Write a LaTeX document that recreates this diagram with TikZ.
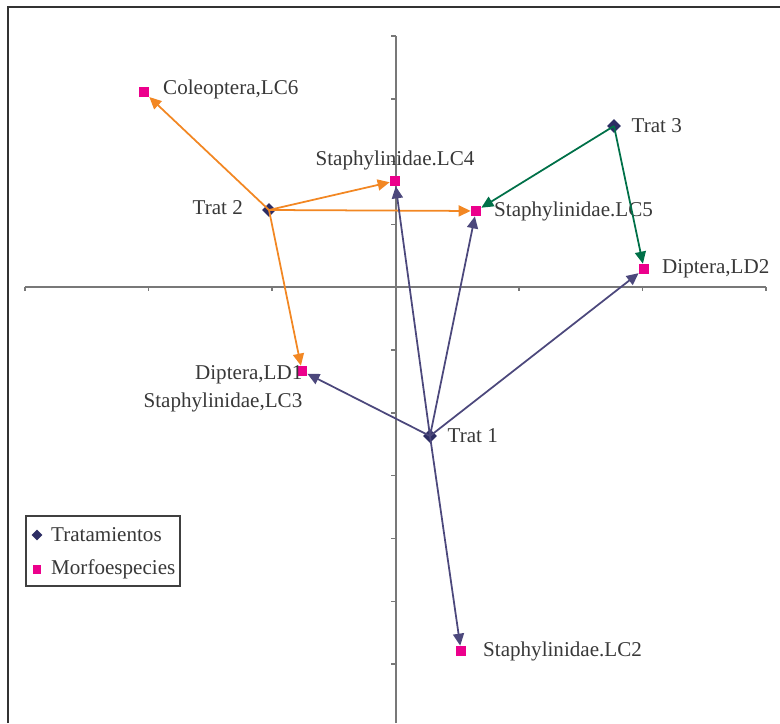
\documentclass[tikz,border=0pt]{standalone}
\usepackage{fontspec}
\setmainfont{Liberation Serif}
\usetikzlibrary{arrows.meta,shapes.geometric,positioning}

\definecolor{tratcol}{RGB}{45,45,100}
\definecolor{morfcol}{RGB}{236,0,140}
\definecolor{orangeline}{RGB}{242,135,35}
\definecolor{greenline}{RGB}{0,112,72}
\definecolor{purpleline}{RGB}{76,72,124}
\definecolor{axiscol}{RGB}{120,120,120}

\begin{document}
\begin{tikzpicture}[x=0.02cm,y=-0.02cm,
trat/.style={diamond,fill=tratcol,inner sep=0pt,minimum size=0.28cm},
morf/.style={rectangle,fill=morfcol,inner sep=0pt,minimum size=0.2cm},
lbl/.style={inner sep=0pt,text=black!78,font=\fontsize{12}{14}\selectfont},
vec/.style={-{Triangle[length=0.24cm,width=0.22cm]},line width=1pt},
axis/.style={axiscol,line width=0.8pt}]
\useasboundingbox (0,0) rectangle (780,723);
% frame and axes
\draw[line width=1.2pt,black!80] (8,723) -- (8,7) -- (780,7);
\draw[axis] (396,723) -- (396,36);
\foreach \ty in {0,...,10}
  \draw[axis] (391,{36+62.8*\ty}) -- (396,{36+62.8*\ty});
\draw[axis] (25,287) -- (766,287);
\foreach \tx in {0,...,6}
  \draw[axis] ({25+123.5*\tx},287) -- ({25+123.5*\tx},291);

% treatments and species
\node[trat] (t1) at (430,436) {};
\node[trat] (t2) at (269,210) {};
\node[trat] (t3) at (614,126) {};
\node[morf] (lc6) at (144,92) {};
\node[morf] (lc4) at (395,181) {};
\node[morf] (lc5) at (476,211) {};
\node[morf] (ld2) at (644,269) {};
\node[morf] (ld1) at (302,371) {};
\node[morf] (lc2) at (461,651) {};

\node[lbl,right=0.27cm of lc6,yshift=0.06cm] (lc6l) {Coleoptera,LC6};
\node[lbl,above=0.11cm of lc4] (lc4l) {Staphylinidae.LC4};
\node[lbl,left=0.37cm of t2,yshift=0.04cm] (t2l) {Trat 2};
\node[lbl,right=0.25cm of lc5] (lc5l) {Staphylinidae.LC5};
\node[lbl,right=0.2cm of t3] (t3l) {Trat 3};
\node[lbl,right=0.25cm of ld2] (ld2l) {Diptera,LD2};
\node[lbl,left=-0.12cm of ld1,yshift=-0.08cm] (ld1l) {Diptera,LD1};
\node[lbl,below=0.16cm of ld1l.south east,anchor=north east] (lc3l) {Staphylinidae,LC3};
\node[lbl,right=0.2cm of t1] (t1l) {Trat 1};
\node[lbl,right=0.33cm of lc2] (lc2l) {Staphylinidae.LC2};

% vectors
\draw[vec,orangeline] (t2.center) -- (lc6);
\draw[vec,orangeline] (t2.center) -- (lc4);
\draw[vec,orangeline] (t2.center) -- (lc5);
\draw[vec,orangeline] (t2.center) -- (ld1);
\draw[vec,greenline] (t3.center) -- (lc5);
\draw[vec,greenline] (t3.center) -- (ld2);
\draw[vec,purpleline] (t1.center) -- (lc4);
\draw[vec,purpleline] (t1.center) -- (lc5);
\draw[vec,purpleline] (t1.center) -- (ld2);
\draw[vec,purpleline] (t1.center) -- (ld1);
\draw[vec,purpleline] (t1.center) -- (lc2);

% legend
\draw[black!75,line width=0.6pt] (26,516) rectangle (180,586);
\node[trat,minimum size=0.22cm] (legt) at (37,535) {};
\node[morf,minimum size=0.18cm] (legm) at (37,569) {};
\node[lbl,right=0.16cm of legt] (legtl) {Tratamientos};
\node[lbl,right=0.18cm of legm] (legml) {Morfoespecies};
\end{tikzpicture}
\end{document}
